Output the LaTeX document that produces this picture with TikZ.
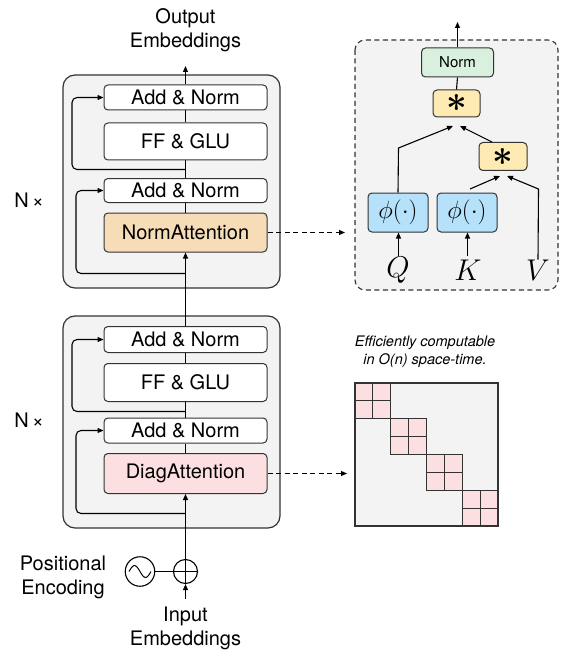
\RequirePackage{fix-cm}
\documentclass[tikz,border=0pt]{standalone}
\usepackage[no-math]{fontspec}
\usepackage{amsmath,amssymb}
\setmainfont{TeX Gyre Heros}
\usetikzlibrary{arrows.meta}
\definecolor{linec}{HTML}{333333}
\definecolor{bgc}{HTML}{F3F3F3}
\definecolor{tanc}{HTML}{F6DDB8}
\definecolor{pinkc}{HTML}{FCE0E1}
\definecolor{greenc}{HTML}{D9F0DE}
\definecolor{yellowc}{HTML}{FDEBB3}
\definecolor{bluec}{HTML}{B5E1FA}
\begin{document}
\begin{tikzpicture}[x=1pt,y=-1pt,
  blockbg/.style={draw=linec, fill=bgc, line width=1.2pt, rounded corners=12pt},
  layer/.style={draw=linec, fill=white, line width=1pt, rounded corners=4pt,
    minimum width=163pt, inner sep=0pt, font=\fontsize{20}{24}\selectfont},
  opbox/.style={draw=linec, line width=1pt, rounded corners=4pt, inner sep=0pt},
  conn/.style={line width=1.1pt, draw=black},
  tip/.style={-{Triangle[length=6pt,width=5pt]}},
  lbl/.style={align=center, font=\fontsize{20}{24}\selectfont, inner sep=0pt},
  cellc/.style={draw=linec, line width=1.1pt},
  startxt/.style={font=\fontsize{36}{36}\selectfont, inner sep=0pt}
]
\useasboundingbox (0,0) rectangle (560,655);

% ---------- upper encoder block ----------
\draw[blockbg] (63,75) rectangle (280,288);
\node[layer, minimum height=25pt] (an1) at (185.5,97.5) {Add \& Norm};
\node[layer, minimum height=37pt] (ff1) at (185.5,141.5) {FF \& GLU};
\node[layer, minimum height=24pt] (an2) at (185.5,190.5) {Add \& Norm};
\node[layer, minimum height=39pt, fill=tanc] (na) at (185.5,232.5) {NormAttention};
\node[lbl] (n1) at (29,200) {N\,×};

% ---------- lower encoder block ----------
\draw[blockbg] (63,316) rectangle (280,528);
\node[layer, minimum height=26pt] (bn1) at (185.5,339.5) {Add \& Norm};
\node[layer, minimum height=38pt] (bff) at (185.5,382.5) {FF \& GLU};
\node[layer, minimum height=25pt] (bn2) at (185.5,430.5) {Add \& Norm};
\node[layer, minimum height=40pt, fill=pinkc] (da) at (185.5,473.5) {DiagAttention};
\node[lbl] (n2) at (29,420) {N\,×};

% ---------- main data path ----------
\draw[conn] (an1.south) -- (ff1.north);
\draw[conn] (ff1.south) -- (an2.north);
\draw[conn] (an2.south) -- (na.north);
\draw[conn, tip] (bn1.north) -- (na.south);
\draw[conn] (bn1.south) -- (bff.north);
\draw[conn] (bff.south) -- (bn2.north);
\draw[conn] (bn2.south) -- (da.north);

% residual branches
\coordinate (f1) at (185.5,169.5);
\coordinate (f2) at (185.5,273.5);
\coordinate (f3) at (185.5,411.5);
\coordinate (f4) at (185.5,513.5);
\draw[conn, tip, rounded corners=5pt] (f1) -| ([xshift=-31.5pt]an1.west) -- (an1.west);
\draw[conn, tip, rounded corners=5pt] (f2) -| ([xshift=-27.5pt]an2.west) -- (an2.west);
\draw[conn, tip, rounded corners=5pt] (f3) -| ([xshift=-31.5pt]bn1.west) -- (bn1.west);
\draw[conn, tip, rounded corners=5pt] (f4) -| ([xshift=-27.5pt]bn2.west) -- (bn2.west);

% output
\node[lbl] (out) at (185.5,30) {Output\\Embeddings};
\coordinate (outtip) at (185.5,66);
\draw[conn, tip] (an1.north) -- (outtip);

% ---------- input and positional encoding ----------
\node[circle, draw=black, line width=1.1pt, minimum size=24pt, inner sep=0pt] (plus) at (185.5,571.5) {};
\draw[conn] (plus.north) -- (plus.south) (plus.west) -- (plus.east);
\node[circle, draw=black, line width=1.1pt, minimum size=29.5pt, inner sep=0pt] (sine) at (140,571.5) {};
\draw[line width=1pt] ([xshift=-11pt]sine.center) sin ++(5.5,-6) cos ++(5.5,6) sin ++(5.5,6) cos ++(5.5,-6);
\draw[conn] (sine.east) -- (plus.west);
\draw[conn, tip] (plus.north) -- (da.south);
\node[lbl] (pos) at (63,577) {Positional\\Encoding};
\node[lbl, anchor=north] (inp) at (185.5,607) {Input\\Embeddings};
\coordinate (intail) at (185.5,599);
\draw[conn, tip] (intail) -- (plus.south);

% ---------- NormAttention detail ----------
\draw[dashed, dash pattern=on 5pt off 3.5pt, draw=linec, line width=1.1pt, fill=bgc, rounded corners=10pt] (355,40) rectangle (558,290);
\node[opbox, fill=greenc, minimum width=72pt, minimum height=29pt, font=\fontsize{15}{16}\selectfont] (nrm) at (457.5,62.5) {Norm};
\node[opbox, fill=yellowc, minimum width=47pt, minimum height=27pt] (s1) at (456.5,103.5) {};
\node[startxt] at (s1.center) {$\boldsymbol{\ast}$};
\node[opbox, fill=yellowc, minimum width=48pt, minimum height=28pt] (s2) at (503,156.5) {};
\node[startxt] at (s2.center) {$\boldsymbol{\ast}$};
\node[opbox, fill=bluec, minimum width=60pt, minimum height=39pt, font=\fontsize{25}{25}\selectfont] (p1) at (398,212.5) {$\phi(\cdot)$};
\node[opbox, fill=bluec, minimum width=60pt, minimum height=39pt, font=\fontsize{25}{25}\selectfont] (p2) at (467,212.5) {$\phi(\cdot)$};
\node[font=\fontsize{30}{30}\selectfont, inner sep=0pt] (q) at (398,270) {$Q$};
\node[font=\fontsize{30}{30}\selectfont, inner sep=0pt] (k) at (468,270) {$K$};
\node[font=\fontsize{30}{30}\selectfont, inner sep=0pt] (v) at (538,270) {$V$};

\coordinate (ntip) at (457.5,22);
\draw[conn, tip] (nrm.north) -- (ntip);
\draw[conn] (nrm.south) -- (s1.north);
\coordinate (qbend) at (398.5,148);
\coordinate (s1a) at (453,126);
\coordinate (s1b) at (460,126);
\coordinate (s2tl) at (492,142);
\draw[conn, tip] (p1.north) -- (qbend) -- (s1a);
\draw[conn, tip] (s2tl) -- (s1b);
\coordinate (ktop) at (470,189);
\coordinate (vbend) at (538.5,189);
\coordinate (s2a) at (500,176);
\coordinate (s2b) at (507,176);
\draw[conn, tip] (ktop) -- (s2a);
\draw[conn, tip] (v.north) -- (vbend) -- (s2b);
\coordinate (qtail) at (398.5,256);
\coordinate (ktail) at (467.5,256);
\draw[conn, tip] (qtail) -- (qtail |- p1.south);
\draw[conn, tip] (ktail) -- (ktail |- p2.south);

\coordinate (natip) at (345,232.5);
\draw[conn, dashed, dash pattern=on 5pt off 3.5pt, tip] (na.east) -- (natip);

% ---------- block-diagonal attention matrix ----------
\node[font=\fontsize{14.5}{18}\selectfont\itshape, align=center, inner sep=0pt] (eff) at (425,352) {Efficiently computable\\in O(n) space-time.};
\fill[bgc] (355,383) rectangle (498,526);
\foreach \i in {0,1,2,3} {
  \pgfmathsetmacro{\xo}{355+35.75*\i}
  \pgfmathsetmacro{\yo}{383+35.75*\i}
  \fill[pinkc] (\xo,\yo) rectangle ++(35.75,35.75);
  \draw[cellc] (\xo,\yo) rectangle ++(35.75,35.75);
  \draw[cellc] (\xo+17.875,\yo) -- ++(0,35.75);
  \draw[cellc] (\xo,\yo+17.875) -- ++(35.75,0);
}
\draw[cellc, line width=1.2pt] (355,383) rectangle (498,526);
\coordinate (datip) at (347,473.5);
\draw[conn, dashed, dash pattern=on 5pt off 3.5pt, tip] (da.east) -- (datip);
\end{tikzpicture}
\end{document}
